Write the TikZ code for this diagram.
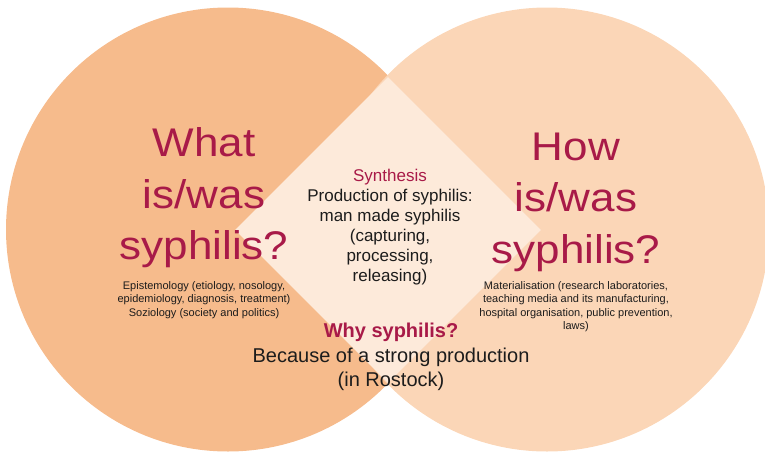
\documentclass[tikz,border=0pt]{standalone}
\usepackage{fontspec}
\setmainfont{Liberation Sans}
\newfontfamily\titlefont[FakeStretch=1.1]{Liberation Sans}
\usepackage{xcolor}
\usepackage{tikz}
\usetikzlibrary{shapes.geometric}
\definecolor{whatfill}{RGB}{246,187,140}
\definecolor{howfill}{RGB}{251,214,183}
\definecolor{synthfill}{RGB}{253,234,218}
\definecolor{syphred}{RGB}{168,26,72}
\definecolor{bodytext}{RGB}{28,28,28}

\begin{document}
\begin{tikzpicture}[
  x=1pt,y=-1pt,
  lobe/.style={circle,minimum size=444pt,inner sep=0pt},
  core/.style={diamond,aspect=1,minimum width=306pt,minimum height=306pt,
               inner sep=0pt,fill=synthfill},
  question/.style={align=center,inner sep=0pt,text=syphred,
                   font=\titlefont\fontsize{40}{51.5}\selectfont},
  detail/.style={align=center,inner sep=0pt,text=bodytext,
                 font=\fontsize{11}{13.5}\selectfont},
  synthtext/.style={align=center,inner sep=0pt,text=bodytext,
                    font=\fontsize{17}{20}\selectfont},
  whytext/.style={align=center,inner sep=0pt,text=bodytext,
                  font=\fontsize{20}{24.5}\selectfont}
]
\useasboundingbox (0,0) rectangle (765,455);

\node[lobe,fill=whatfill] (what) at (228,229.5) {};
\node[lobe,fill=howfill] (how) at (547,229.5) {};
\node[core] (synth) at (388,230) {};

\node[question] (whatq) at (204,198) {What\\is/was\\syphilis?};
\node[question] (howq) at (576,202) {How\\is/was\\syphilis?};

\node[detail] (whatd) at (204,300) {Epistemology (etiology, nosology,\\
  epidemiology, diagnosis, treatment)\\Soziology (society and politics)};
\node[detail] (howd) at (576,306.5) {Materialisation (research laboratories,\\
  teaching media and its manufacturing,\\
  hospital organisation, public prevention,\\laws)};

\node[synthtext] (synthq) at (390,227) {\textcolor{syphred}{Synthesis}\\
  Production of syphilis:\\man made syphilis\\(capturing,\\processing,\\releasing)};
\node[whytext] (why) at (391,357) {\textcolor{syphred}{\textbf{Why syphilis?}}\\
  Because of a strong production\\(in Rostock)};
\end{tikzpicture}
\end{document}
